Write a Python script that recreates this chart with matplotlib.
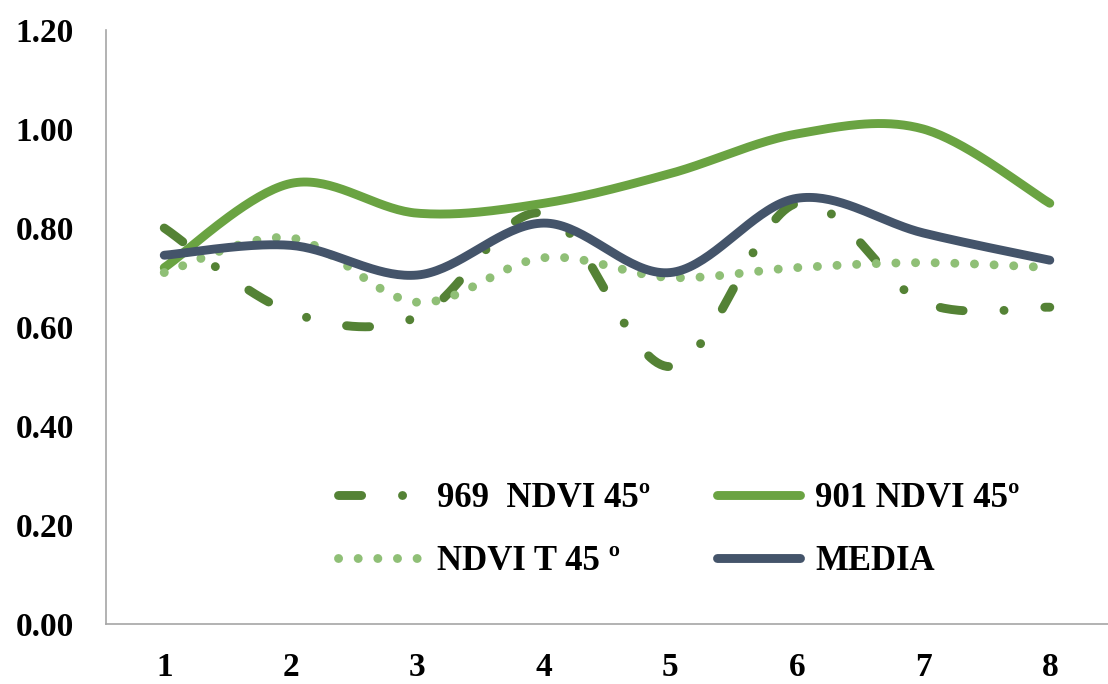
import numpy as np
import matplotlib
matplotlib.use("Agg")
import matplotlib.pyplot as plt

# NDVI values per sample point
x_labels = ["1", "2", "3", "4", "5", "6", "7", "8"]
ndvi_969 = [0.80, 0.63, 0.62, 0.83, 0.52, 0.85, 0.65, 0.64]
ndvi_901 = [0.72, 0.89, 0.83, 0.85, 0.91, 0.99, 1.00, 0.85]
ndvi_t45 = [0.71, 0.78, 0.65, 0.74, 0.70, 0.72, 0.73, 0.72]
media = [0.745, 0.765, 0.705, 0.81, 0.71, 0.86, 0.79, 0.735]
y_ticks = [0.0, 0.2, 0.4, 0.6, 0.8, 1.0, 1.2]


def smooth(x, y, n=40):
    """Bezier smoothing like the spreadsheet 'smoothed line' option."""
    pts = np.column_stack([x, y]).astype(float)
    P = np.vstack([pts[0], pts, pts[-1]])
    t = np.linspace(0, 1, n)[:, None]
    out = []
    for i in range(1, len(P) - 2):
        p0, p1, p2, p3 = P[i - 1], P[i], P[i + 1], P[i + 2]
        c1 = p1 + (p2 - p0) / 6.0
        c2 = p2 - (p3 - p1) / 6.0
        seg = (1 - t) ** 3 * p1 + 3 * (1 - t) ** 2 * t * c1 + 3 * (1 - t) * t ** 2 * c2 + t ** 3 * p2
        out.append(seg if i == 1 else seg[1:])
    c = np.vstack(out)
    return c[:, 0], c[:, 1]


plt.rcParams['font.family'] = ['Liberation Serif', 'DejaVu Serif']
plt.rcParams['font.weight'] = 'bold'

fig = plt.figure(figsize=(11.08, 6.84), dpi=100)
ax = fig.add_axes([0.0957, 0.0877, 0.9043, 0.8684])

x = np.arange(1, len(x_labels) + 1)
lw = 6.4

sx, sy = smooth(x, ndvi_969)
l969, = ax.plot(sx, sy, color='#548235', lw=lw, dashes=(2.6, 4.6, 0.01, 4.6),
                dash_capstyle='round', solid_capstyle='round', label='969  NDVI 45º')
sx, sy = smooth(x, ndvi_901)
l901, = ax.plot(sx, sy, color='#6aa342', lw=lw, solid_capstyle='round',
                label='901 NDVI 45º')
sx, sy = smooth(x, ndvi_t45)
lt45, = ax.plot(sx, sy, color='#8fbf76', lw=lw, dashes=(0.01, 2.2),
                dash_capstyle='round', label='NDVI T 45 º')
sx, sy = smooth(x, media)
lmed, = ax.plot(sx, sy, color='#44546a', lw=lw, solid_capstyle='round', label='MEDIA')

ax.set_xlim(0.54, 8.46)
ax.set_ylim(0, 1.2)
ax.set_xticks(x)
ax.set_xticklabels(x_labels)
ax.set_yticks(y_ticks)
ax.set_yticklabels(["%.2f" % v for v in y_ticks])
ax.tick_params(axis='both', length=0, labelsize=24)
ax.tick_params(axis='y', pad=23)
ax.tick_params(axis='x', pad=20)

for s in ['top', 'right']:
    ax.spines[s].set_visible(False)
for s in ['left', 'bottom']:
    ax.spines[s].set_color('#a6a6a6')
    ax.spines[s].set_linewidth(1.2)

ax.legend(handles=[l969, lt45, l901, lmed], ncol=2, frameon=False,
          loc='upper left', bbox_to_anchor=(0.218, 0.262),
          fontsize=25, handlelength=2.4, handletextpad=0.45,
          columnspacing=1.9, labelspacing=0.85, borderaxespad=0)

fig.savefig('out.png', dpi=100)
